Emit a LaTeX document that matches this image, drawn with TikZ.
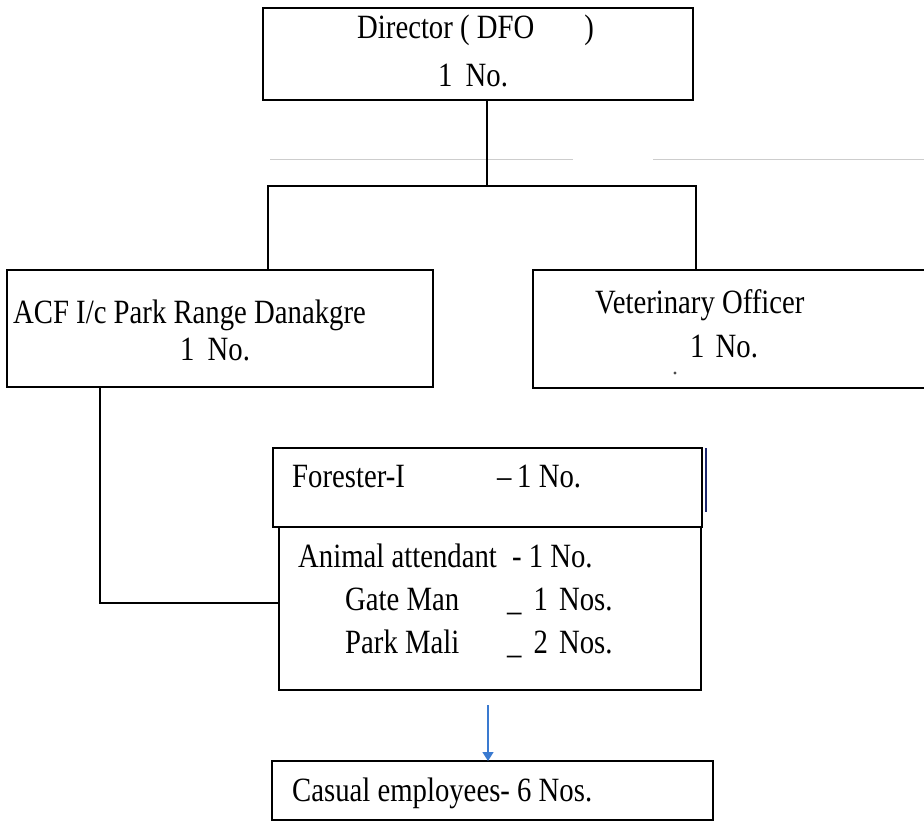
\documentclass[tikz,border=0pt]{standalone}
\usepackage{fontspec}
\setmainfont[FakeStretch=0.845]{Liberation Serif}
\usetikzlibrary{arrows.meta}
\definecolor{arrowblue}{RGB}{58,122,208}
\definecolor{navyline}{RGB}{30,40,110}
\definecolor{faint}{RGB}{205,205,205}
\begin{document}
\begin{tikzpicture}[x=1pt,y=-1pt,
  box/.style={draw, line width=1.7pt, rectangle, inner sep=0pt, outer sep=0pt, anchor=north west},
  txt/.style={anchor=base west, inner sep=0pt, font=\fontsize{34}{40}\selectfont},
  link/.style={line width=1.7pt},
  bluearrow/.style={draw=arrowblue, line width=1.4pt, -{Triangle[width=11pt,length=9pt]}, arrowblue}]
\useasboundingbox[fill=white] (0,0) rectangle (924,822);

% faint scan lines
\draw[faint, line width=0.8pt] (270,159) -- (573,159);
\draw[faint, line width=0.8pt] (653,159) -- (924,159);

% boxes
\node[box, minimum width=430pt, minimum height=92pt] (dir) at (263,8) {};
\node[box, minimum width=426pt, minimum height=117pt] (acf) at (7,270) {};
\node[box, minimum width=402pt, minimum height=118pt] (vet) at (533,270) {};
\node[box, minimum width=429pt, minimum height=79pt] (for) at (273,448) {};
\node[box, minimum width=422pt, minimum height=163pt] (staff) at (279,527) {};
\node[box, minimum width=441pt, minimum height=59pt] (cas) at (272,761) {};

% texts
\node[txt] (dirT) at (357,38) {Director ( DFO\hspace{50pt})};
\node[txt] (dirN) at (438,86) {1\hspace{6pt} No.};
\node[txt] (acfT) at (13,323) {ACF I/c Park Range Danakgre};
\node[txt] (acfN) at (180,360) {1\hspace{6pt} No.};
\node[txt] (vetT) at (595,313) {Veterinary Officer};
\node[txt] (vetN) at (690,357) {1\hspace{4pt} No.};
\node[txt] (forT) at (292,487) {Forester-I};
\node[txt] (forN) at (497,487) {–\,1 No.};
\node[txt] (aniT) at (298,567) {Animal attendant\hspace{8pt} - 1 No.};
\node[txt] (gateT) at (345,610) {Gate Man};
\node[txt] (gateN) at (507,610) {\_\hspace{12pt}1\hspace{4pt} Nos.};
\node[txt] (maliT) at (345,653) {Park Mali};
\node[txt] (maliN) at (507,653) {\_\hspace{12pt}2\hspace{4pt} Nos.};
\node[txt] (casT) at (292,801) {Casual employees- 6 Nos.};

% speck
\fill[black!70] (675,373) circle (1.6pt);

% connectors
\coordinate (j) at (487,186);
\coordinate (bl) at (268,186);
\coordinate (br) at (696,186);
\draw[link] (dir.south -| j) -- (j);
\draw[link] (bl |- acf.north) -- (bl) -- (br) -- (br |- vet.north);
\coordinate (cl) at (100,603);
\draw[link] (cl |- acf.south) -- (cl) -- (cl -| staff.west);

% stray vertical line
\coordinate (s1) at (706,448);
\coordinate (s2) at (706,512);
\draw[navyline, line width=1.8pt] (s1) -- (s2);

% arrow to casual employees
\coordinate (at) at (488,705);
\draw[bluearrow] (at) -- (at |- cas.north);
\end{tikzpicture}
\end{document}
